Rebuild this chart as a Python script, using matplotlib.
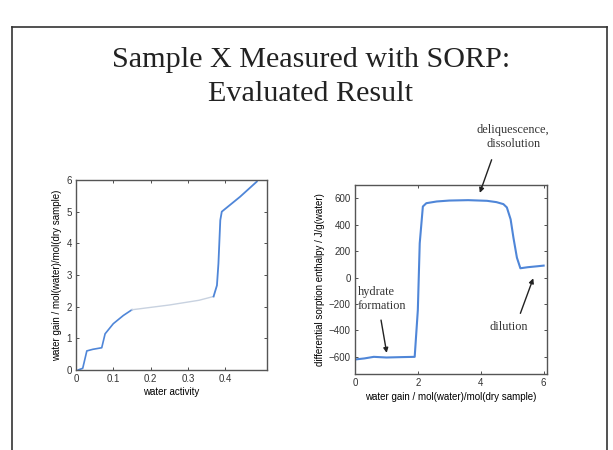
import matplotlib.pyplot as plt
from matplotlib.lines import Line2D

# left panel: sorption isotherm (water activity vs water gain)
aw_low = [0.006, 0.018, 0.029, 0.045, 0.069, 0.078, 0.100, 0.127, 0.150]
gain_low = [0.0, 0.05, 0.60, 0.65, 0.70, 1.14, 1.46, 1.72, 1.90]
aw_gap = [0.150, 0.250, 0.330, 0.369]
gain_gap = [1.90, 2.05, 2.20, 2.32]
aw_high = [0.369, 0.378, 0.382, 0.387, 0.391, 0.440, 0.485]
gain_high = [2.32, 2.67, 3.36, 4.73, 5.00, 5.47, 5.95]

# right panel: differential sorption enthalpy
gain = [0.0, 0.3, 0.6, 1.0, 1.5, 1.9, 2.0, 2.06, 2.16, 2.27, 2.6, 3.0, 3.6,
        4.2, 4.5, 4.72, 4.83, 4.95, 5.04, 5.15, 5.26, 5.5, 5.8, 6.0]
enthalpy = [-620, -612, -600, -605, -602, -600, -246, 259, 537, 562, 575, 582,
            585, 580, 570, 555, 530, 440, 300, 150, 70, 78, 85, 90]

blue = "#4f86d8"
sans = ["Liberation Sans", "DejaVu Sans"]
serif = ["Liberation Serif", "DejaVu Serif"]

fig = plt.figure(figsize=(6.13, 4.5), dpi=100)

# slide frame
for xs, ys in [([0.02, 0.99], [0.94, 0.94]), ([0.02, 0.02], [0.0, 0.94]),
               ([0.99, 0.99], [0.0, 0.94])]:
    fig.add_artist(Line2D(xs, ys, color="#333333", lw=1.2))

fig.text(0.507, 0.866, "Sample X Measured with SORP:", ha="center", va="center",
         fontsize=21.7, family=serif, color="#222222")
fig.text(0.507, 0.792, "Evaluated Result", ha="center", va="center",
         fontsize=21.7, family=serif, color="#222222")

ax1 = fig.add_axes([0.124, 0.178, 0.312, 0.422])
ax1.plot(aw_low, gain_low, color=blue, lw=1.2)
ax1.plot(aw_gap, gain_gap, color="#c8d2e0", lw=1.0)
ax1.plot(aw_high, gain_high, color=blue, lw=1.3)
ax1.set_xlim(0, 0.513)
ax1.set_ylim(0, 6)
ax1.set_xticks([0, 0.1, 0.2, 0.3, 0.4])
ax1.set_xticklabels(["0", "0.1", "0.2", "0.3", "0.4"])
ax1.set_yticks(range(7))
ax1.set_xlabel("water activity", fontsize=7, family=sans, labelpad=2)
ax1.set_ylabel("water gain / mol(water)/mol(dry sample)", fontsize=7,
               family=sans, labelpad=3)

ax2 = fig.add_axes([0.579, 0.170, 0.313, 0.419])
ax2.plot(gain, enthalpy, color=blue, lw=1.5)
ax2.set_xlim(0, 6.1)
ax2.set_ylim(-726, 700)
ax2.set_xticks([0, 2, 4, 6])
ax2.set_yticks([-600, -400, -200, 0, 200, 400, 600])
ax2.set_xlabel("water gain / mol(water)/mol(dry sample)", fontsize=7,
               family=sans, labelpad=3)
ax2.set_ylabel("differential sorption enthalpy / J/g(water)", fontsize=7,
               family=sans, labelpad=3)

for ax in (ax1, ax2):
    ax.tick_params(direction="in", top=True, right=True, labelsize=7,
                   length=2.5, width=0.6, colors="#333333", pad=3)
    for lab in ax.get_xticklabels() + ax.get_yticklabels():
        lab.set_family(sans)
    for sp in ax.spines.values():
        sp.set_color("#555555")
        sp.set_linewidth(1.0)

note = dict(fontsize=8.8, family=serif, color="#333333", linespacing=1.25)
arrow = dict(arrowstyle="-|>", color="#222222", lw=1.0, mutation_scale=7,
             shrinkA=0, shrinkB=0)

fig.text(0.837, 0.695, "deliquescence,\ndissolution", ha="center",
         va="center", **note)
ax2.annotate("", xy=(3.97, 640), xytext=(0.802, 0.645),
             textcoords="figure fraction", arrowprops=arrow,
             annotation_clip=False)

ax2.text(0.09, -165, "hydrate\nformation", ha="left", va="center", **note)
ax2.annotate("", xy=(1.01, -570), xytext=(0.83, -322), arrowprops=arrow)

ax2.text(4.9, -375, "dilution", ha="center", va="center", **note)
ax2.annotate("", xy=(5.67, -6), xytext=(5.26, -271), arrowprops=arrow)

fig.savefig("out.png", dpi=100)
